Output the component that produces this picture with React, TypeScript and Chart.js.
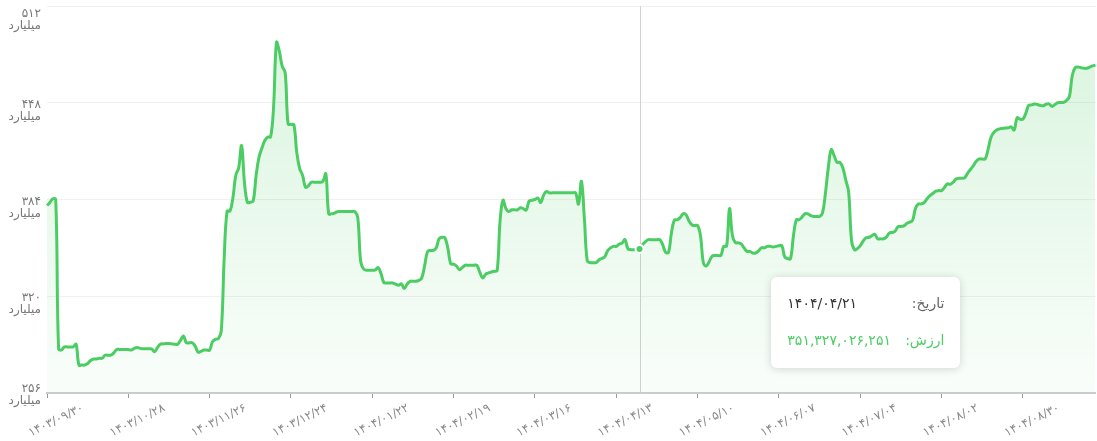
import React, { useEffect, useRef } from 'react';
import { Chart, registerables } from 'chart.js';

Chart.register(...registerables);

// ---- data (values in billions of rials, one per day) ----
const startDate = [1403, 9, 30];
const monthDays1403 = [31, 31, 31, 31, 31, 31, 30, 30, 30, 30, 30, 30];
const monthDays1404 = [31, 31, 31, 31, 31, 31, 30, 30, 30, 30, 30, 29];
const tickEvery = 28;
const yTicks = [256, 320, 384, 448, 512];
const activeIndex = 204;

const valuesA = [
  380, 382, 384.5, 384, 285, 284.5, 286.5, 286.5, 286.5, 286.5,
  288.3, 274.5, 274.5, 274.5, 275.5, 277.5, 278.5, 278.5, 279, 279,
  281, 281, 281, 282.5, 284.8, 284.8, 284.8, 284.8, 284.8, 284.4,
  285.5, 286.1, 285.5, 285.3, 285.3, 285.2, 285.2, 283.3, 286, 288.3,
  288.5, 288.7, 288.7, 288.5, 288.3, 288.3, 291, 293.6, 289.2, 289.2,
  289.2, 287, 283, 283.5, 284.4, 284.4, 284.4, 290, 291.5, 292,
  297, 345, 376.3, 376.3, 385, 400, 405, 419.6, 395, 382.2,
  382.2, 383, 400, 412, 418, 423, 425.3, 425.5, 445, 487.9,
  482, 472, 468, 434, 433.7, 433.5, 415, 404.5, 400, 392.1,
  393, 395.4, 395.4, 395.4, 395.4, 396, 401, 374.5, 374.5, 375,
];
const valuesB = [
  376, 376.1, 376.1, 376.1, 376.1, 376.1, 376.1, 372, 343, 338,
  337.2, 337.2, 337.2, 337.5, 339, 335, 329, 328.8, 328.8, 328.8,
  328, 327.3, 328.3, 325.1, 328, 329.9, 329.9, 329.9, 330.5, 332,
  340, 349.5, 350.3, 350.3, 352, 358, 359, 358.7, 352, 341.5,
  341.2, 340, 337.6, 339, 340.5, 340.5, 340.5, 340.5, 340.5, 336,
  332.1, 334.5, 335.4, 336, 336.5, 337, 370, 383.5, 378, 376,
  377.2, 377.2, 377.2, 378.5, 378, 377, 383, 383.5, 384, 385,
  382, 387, 389.3, 388.4, 388.4, 388.4, 388.4, 388.4, 388.4, 388.4,
  388.4, 388.4, 388.4, 381, 396, 372, 343.5, 342.2, 342.2, 342.2,
  344, 345, 346, 350, 352, 353, 353, 354.5, 355.2, 357.5,
];
const valuesC = [
  351.5, 350.8, 350.8, 350.8, 351.327026251, 354, 356, 357.4, 357.4, 357.4,
  357.4, 357.4, 354, 349, 349, 362, 370.3, 370.6, 372, 374.5,
  374, 370, 367.3, 366.8, 366.8, 360, 342, 340, 343, 346.5,
  347, 347, 347, 353, 353.2, 378, 360, 355.5, 355.3, 354.7,
  352, 349.7, 349.7, 348.6, 348.6, 350, 352.1, 352, 353, 353,
  352.6, 353, 353.4, 353.4, 346, 344.9, 344.9, 360, 370.6, 370.6,
  372.5, 374.7, 374.5, 373.3, 372.8, 372.8, 372.8, 375, 388, 405,
  417, 413, 408.6, 408.6, 405, 397, 389, 357, 350.8, 351.5,
  353.5, 356.5, 358.7, 359, 360, 361, 358, 358, 358, 359.1,
  361.8, 362.2, 363, 366, 366.2, 366.5, 368.2, 369, 370.1, 378,
];
const valuesD = [
  381, 381.1, 382, 384.5, 386.5, 388, 389.5, 389.9, 389.9, 392,
  394.3, 394.1, 395.5, 397.5, 398.1, 398.1, 398.5, 401.5, 404, 406.5,
  409.5, 410.8, 410.8, 410.8, 417, 425, 428.4, 430, 430.7, 431,
  431.3, 431.5, 432, 430, 438, 437.2, 437.2, 441, 446.2, 446.6,
  447.1, 446.8, 446.2, 446, 447, 447.3, 445.6, 446.8, 448, 448.2,
  448.2, 449.5, 452, 466, 471.2, 471.7, 471.2, 470.8, 470.8, 471.6,
  472.4, 472.9,
];
const values = [...valuesA, ...valuesB, ...valuesC, ...valuesD];

const UNIT = 'میلیارد';
const DATE_LABEL = 'تاریخ:';
const VALUE_LABEL = 'ارزش:';

const GREEN = 'rgb(76, 205, 100)';
const FONT = "'DejaVu Sans', sans-serif";

const FA_DIGITS = '۰۱۲۳۴۵۶۷۸۹';
const toFa = (s: string) => s.replace(/[0-9]/g, (d) => FA_DIGITS[Number(d)]);
const pad2 = (n: number) => (n < 10 ? '0' + n : String(n));

function buildDateLabels(n: number): string[] {
  let [y, m, d] = startDate;
  const out: string[] = [];
  for (let i = 0; i < n; i++) {
    out.push(`${y}/${pad2(m)}/${pad2(d)}`);
    d++;
    const len = (y === 1403 ? monthDays1403 : monthDays1404)[m - 1];
    if (d > len) {
      d = 1;
      m++;
      if (m > 12) {
        m = 1;
        y++;
      }
    }
  }
  return out;
}

const labels = buildDateLabels(values.length);

export default function App() {
  const canvasRef = useRef<HTMLCanvasElement | null>(null);
  const tipRef = useRef<HTMLDivElement | null>(null);
  const dateRef = useRef<HTMLSpanElement | null>(null);
  const valRef = useRef<HTMLSpanElement | null>(null);

  useEffect(() => {
    const canvas = canvasRef.current;
    if (!canvas) return;

    const crosshair = {
      id: 'crosshair',
      beforeDatasetsDraw(chart: any) {
        const act = chart.getActiveElements();
        if (!act.length) return;
        const x = act[0].element.x;
        const { top, bottom } = chart.chartArea;
        const c = chart.ctx;
        c.save();
        c.strokeStyle = '#d2d2d2';
        c.lineWidth = 1;
        c.beginPath();
        c.moveTo(Math.round(x) + 0.5, top);
        c.lineTo(Math.round(x) + 0.5, bottom);
        c.stroke();
        c.restore();
      },
    };

    const external = (ctx: any) => {
      const { tooltip } = ctx;
      const el = tipRef.current;
      if (!el) return;
      if (!tooltip || tooltip.opacity === 0 || !tooltip.dataPoints || !tooltip.dataPoints.length) {
        el.style.display = 'none';
        return;
      }
      const dp = tooltip.dataPoints[0];
      if (dateRef.current) dateRef.current.textContent = toFa(labels[dp.dataIndex]);
      if (valRef.current)
        valRef.current.textContent = toFa(Math.round(dp.raw * 1e9).toLocaleString('en-US'));
      el.style.display = 'block';
      el.style.left = tooltip.caretX + 131 + 'px';
      el.style.top = tooltip.caretY + 28 + 'px';
    };

    const chart = new Chart(canvas, {
      type: 'line',
      data: {
        labels,
        datasets: [
          {
            data: values,
            borderColor: GREEN,
            borderWidth: 3,
            tension: 0.4,
            pointRadius: 0,
            pointHoverRadius: 4,
            pointHoverBackgroundColor: GREEN,
            pointHoverBorderColor: '#ffffff',
            pointHoverBorderWidth: 2,
            fill: 'start',
            backgroundColor: (c: any) => {
              const area = c.chart.chartArea;
              if (!area) return 'rgba(76,205,100,0.1)';
              const g = c.chart.ctx.createLinearGradient(0, area.top, 0, area.bottom);
              g.addColorStop(0, 'rgba(76,205,100,0.22)');
              g.addColorStop(1, 'rgba(76,205,100,0.03)');
              return g;
            },
          },
        ],
      },
      options: {
        responsive: false,
        animation: false,
        events: [],
        layout: { padding: { top: 6, left: 0, right: 0, bottom: 0 } },
        interaction: { mode: 'index', intersect: false },
        plugins: {
          legend: { display: false },
          tooltip: { enabled: false, external },
        },
        scales: {
          x: {
            type: 'category',
            offset: false,
            grid: { drawOnChartArea: false, drawTicks: true, tickLength: 5, color: '#999' },
            border: { display: true, color: '#cccccc', width: 2 },
            ticks: {
              autoSkip: false,
              minRotation: 26,
              maxRotation: 26,
              labelOffset: 36,
              padding: 3,
              color: '#888',
              font: { family: FONT, size: 12 },
              callback: (v: any) => toFa(labels[v as number]),
            },
            afterBuildTicks: (s: any) => {
              s.ticks = s.ticks.filter((t: any) => t.value % tickEvery === 0);
            },
            afterFit: (s: any) => {
              s.height = 48;
              s.paddingLeft = 0;
              s.paddingRight = 0;
            },
          },
          y: {
            min: yTicks[0],
            max: yTicks[yTicks.length - 1],
            afterBuildTicks: (s: any) => {
              s.ticks = yTicks.map((v) => ({ value: v }));
            },
            grid: { color: '#f0f0f0', drawTicks: false },
            border: { display: false },
            ticks: {
              padding: 6,
              labelOffset: 8,
              color: '#777',
              font: { family: FONT, size: 12, lineHeight: '12px' },
              callback: (v: any) => {
                const n = toFa(String(v));
                if (v === yTicks[yTicks.length - 1]) return ['', n, UNIT];
                if (v === yTicks[0]) return [n, UNIT, ''];
                return [n, UNIT];
              },
            },
            afterFit: (s: any) => {
              s.width = 47;
              s.paddingTop = 0;
              s.paddingBottom = 0;
            },
          },
        },
      } as any,
      plugins: [crosshair],
    });

    const act = [{ datasetIndex: 0, index: activeIndex }];
    chart.setActiveElements(act);
    const el: any = chart.getDatasetMeta(0).data[activeIndex];
    chart.tooltip?.setActiveElements(act, { x: el.x, y: el.y });
    chart.update();

    return () => {
      chart.destroy();
    };
  }, []);

  return (
    <div style={{ position: 'absolute', left: 0, top: 0, width: 1097, height: 441, background: '#fff' }}>
      <canvas ref={canvasRef} width={1097} height={441} style={{ display: 'block' }} />
      <div
        ref={tipRef}
        style={{
          position: 'absolute',
          display: 'none',
          width: 189,
          height: 91,
          boxSizing: 'border-box',
          padding: '15px 16px 0 16px',
          background: '#fff',
          borderRadius: 6,
          boxShadow: '0 1px 8px rgba(0,0,0,0.16)',
          direction: 'rtl',
          fontFamily: FONT,
          fontSize: 14,
          lineHeight: '22px',
        }}
      >
        <div style={{ display: 'flex', justifyContent: 'space-between', marginBottom: 15 }}>
          <span style={{ color: '#666' }}>{DATE_LABEL}</span>
          <span ref={dateRef} style={{ color: '#333', direction: 'ltr' }} />
        </div>
        <div style={{ display: 'flex', justifyContent: 'space-between' }}>
          <span style={{ color: GREEN }}>{VALUE_LABEL}</span>
          <span ref={valRef} style={{ color: GREEN, direction: 'ltr' }} />
        </div>
      </div>
    </div>
  );
}
